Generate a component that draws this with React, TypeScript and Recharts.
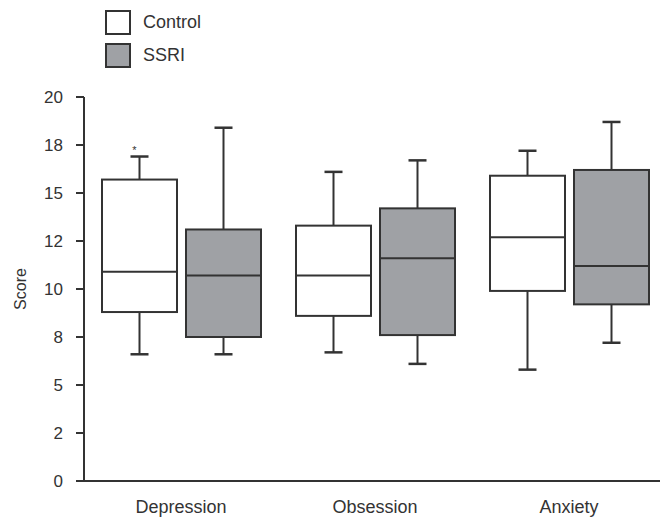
import React from 'react';
import { ComposedChart, Bar, XAxis, YAxis } from 'recharts';

const categories = ['Depression', 'Obsession', 'Anxiety'];

const controlMin = [6.6, 6.7, 5.8];
const controlQ1 = [8.8, 8.6, 9.9];
const controlMedian = [10.9, 10.7, 12.7];
const controlQ3 = [15.7, 13.3, 15.9];
const controlMax = [16.9, 16.1, 17.2];
const controlOutliers = [[17.3], [], []];

const ssriMin = [6.6, 6.1, 7.2];
const ssriQ1 = [7.5, 7.6, 9.2];
const ssriMedian = [10.7, 11.6, 11.2];
const ssriQ3 = [13.1, 14.2, 16.2];
const ssriMax = [18.4, 16.7, 18.7];
const ssriOutliers = [[], [], []];

const yTicks = [0, 2.5, 5, 7.5, 10, 12.5, 15, 17.5, 20];
const yTickLabels = ['0', '2', '5', '8', '10', '12', '15', '18', '20'];

const seriesNames = ['Control', 'SSRI'];
const seriesFills = ['#ffffff', '#9fa1a5'];

const INK = '#333333';
const FONT = '"Liberation Sans", Arial, Helvetica, sans-serif';

const data = categories.map((name, i) => ({
    name,
    cBase: controlQ1[i],
    cBox: controlQ3[i] - controlQ1[i],
    sBase: ssriQ1[i],
    sBox: ssriQ3[i] - ssriQ1[i],
    control: {
        min: controlMin[i], q1: controlQ1[i], median: controlMedian[i],
        q3: controlQ3[i], max: controlMax[i], outliers: controlOutliers[i],
    },
    ssri: {
        min: ssriMin[i], q1: ssriQ1[i], median: ssriMedian[i],
        q3: ssriQ3[i], max: ssriMax[i], outliers: ssriOutliers[i],
    },
}));

// draws whiskers, box and median; pixel positions come from the bar's own scaled rect
const BoxShape = (props: any) => {
    const { x, y, width, height, payload, group, fill } = props;
    const st = payload[group];
    const k = height / (st.q3 - st.q1);
    const py = (v: number) => y + (st.q3 - v) * k;
    const cx = x + width / 2;
    const cap = 9;
    return (
        <g>
            <line x1={cx} x2={cx} y1={py(st.max)} y2={y} stroke={INK} strokeWidth={2} />
            <line x1={cx} x2={cx} y1={y + height} y2={py(st.min)} stroke={INK} strokeWidth={2} />
            <line x1={cx - cap} x2={cx + cap} y1={py(st.max)} y2={py(st.max)} stroke={INK} strokeWidth={2.5} />
            <line x1={cx - cap} x2={cx + cap} y1={py(st.min)} y2={py(st.min)} stroke={INK} strokeWidth={2.5} />
            <rect x={x} y={y} width={width} height={height} fill={fill} stroke={INK} strokeWidth={2} />
            <line x1={x} x2={x + width} y1={py(st.median)} y2={py(st.median)} stroke={INK} strokeWidth={2} />
            {st.outliers.map((v: number, i: number) => (
                <text key={i} x={cx - 5} y={py(v) + 5} fontSize={11} fill={INK} textAnchor="middle">*</text>
            ))}
        </g>
    );
};

const ScoreLabel = ({ viewBox }: any) => {
    const lx = viewBox.x + 12;
    const ly = viewBox.y + viewBox.height / 2;
    return (
        <text x={lx} y={ly} transform={`rotate(-90, ${lx}, ${ly})`} textAnchor="middle"
            dominantBaseline="central" fontSize={16} fill={INK} fontFamily={FONT}>
            Score
        </text>
    );
};

export default function App() {
    return (
        <div style={{ position: 'absolute', left: 8, top: 8, width: 652, height: 513, overflow: 'hidden', fontFamily: FONT, background: '#fff' }}>
            <div style={{ position: 'absolute', left: 97, top: 2 }}>
                {seriesNames.map((n, i) => (
                    <div key={n} style={{ display: 'flex', alignItems: 'center', height: 25, marginBottom: 8 }}>
                        <div style={{ width: 22, height: 21, border: `2px solid ${INK}`, background: seriesFills[i] }} />
                        <span style={{ marginLeft: 12, fontSize: 18, color: INK }}>{n}</span>
                    </div>
                ))}
            </div>
            <ComposedChart width={670} height={513} data={data} barSize={75} barGap={9}
                margin={{ top: 89, right: 12, left: 0, bottom: 10 }}>
                <XAxis dataKey="name" tickLine={false} axisLine={{ stroke: INK, strokeWidth: 2 }}
                    tick={{ fill: INK, fontSize: 18, fontFamily: FONT }} tickMargin={13} height={30} />
                <YAxis domain={[0, 20]} ticks={yTicks} interval={0} width={76}
                    tickFormatter={(_v: number, i: number) => yTickLabels[i]}
                    tick={{ fill: INK, fontSize: 17, fontFamily: FONT }}
                    tickLine={{ stroke: INK, strokeWidth: 2 }} tickSize={8} tickMargin={13}
                    axisLine={{ stroke: INK, strokeWidth: 2 }}
                    label={<ScoreLabel />} />
                <Bar dataKey="cBase" stackId="c" fill="none" isAnimationActive={false} />
                <Bar dataKey="cBox" stackId="c" isAnimationActive={false}
                    shape={(p: any) => <BoxShape {...p} group="control" fill={seriesFills[0]} />} />
                <Bar dataKey="sBase" stackId="s" fill="none" isAnimationActive={false} />
                <Bar dataKey="sBox" stackId="s" isAnimationActive={false}
                    shape={(p: any) => <BoxShape {...p} group="ssri" fill={seriesFills[1]} />} />
            </ComposedChart>
        </div>
    );
}
